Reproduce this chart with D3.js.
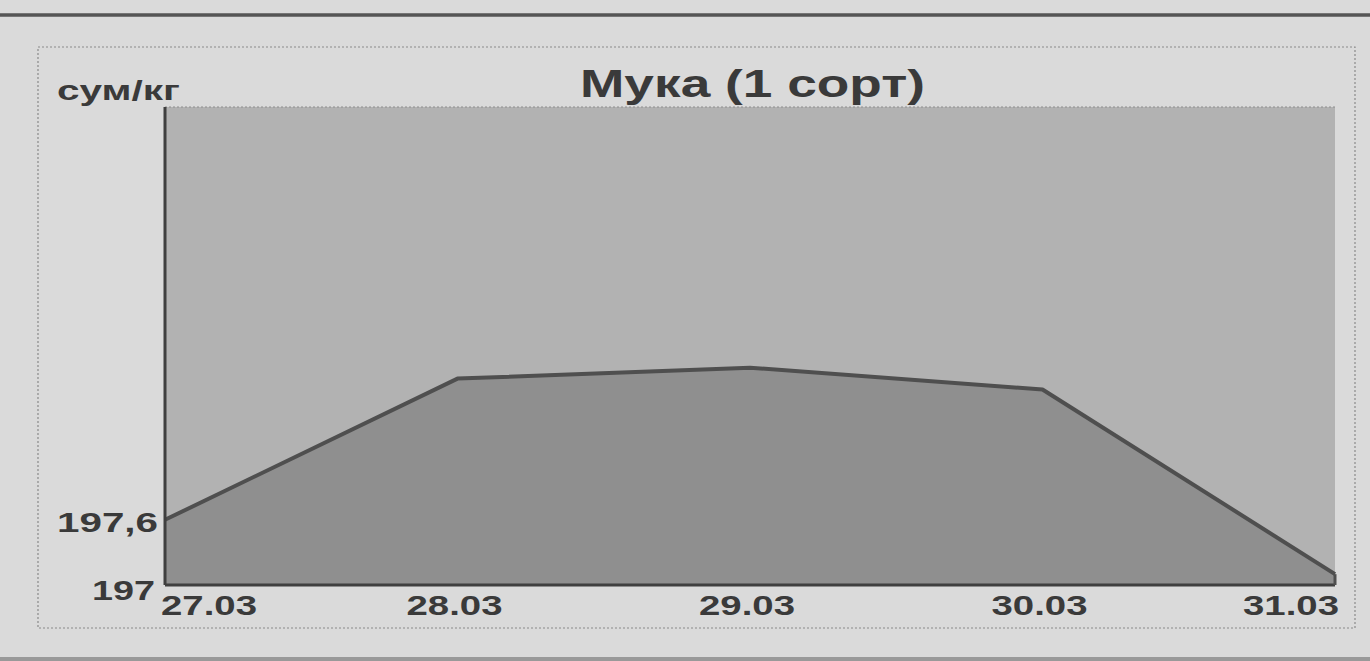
<!DOCTYPE html>
<html>
<head>
<meta charset="utf-8">
<script src="https://cdn.jsdelivr.net/npm/d3@7/dist/d3.min.js"></script>
<style>
  body { margin: 0; background: #dadada; }
  svg { display: block; }
  text { font-family: "Liberation Sans", Arial, sans-serif; font-weight: bold; fill: #3a3a3a; }
</style>
</head>
<body>
<svg width="1370" height="661"></svg>
<script>
// data
const dates = ["27.03", "28.03", "29.03", "30.03", "31.03"];
const prices = [197.6, 198.9, 199.0, 198.8, 197.1];
const yTicks = [197, 197.6];
const yTickLabels = ["197", "197,6"];

var svg = d3.select("svg"),
    width = +svg.attr("width"),
    height = +svg.attr("height");

var margin = {left: 165, right: 35, top: 107, bottom: 76};

var x = d3.scalePoint().domain(dates).range([margin.left, width - margin.right]);
var y = d3.scaleLinear().domain([197, 201.4]).range([height - margin.bottom, margin.top]);

// page rules
svg.append("line").attr("x1", 0).attr("x2", width).attr("y1", 15).attr("y2", 15)
    .attr("stroke", "#555").attr("stroke-width", 3.5);
svg.append("line").attr("x1", 0).attr("x2", width).attr("y1", 659).attr("y2", 659)
    .attr("stroke", "#999").attr("stroke-width", 4);

// dotted frame
svg.append("rect").attr("x", 38).attr("y", 47).attr("width", 1317).attr("height", 581)
    .attr("fill", "none").attr("stroke", "#8a8a8a").attr("stroke-width", 1.2)
    .attr("stroke-dasharray", "2,2");

// plot background
svg.append("rect")
    .attr("x", margin.left).attr("y", margin.top)
    .attr("width", width - margin.right - margin.left)
    .attr("height", height - margin.bottom - margin.top)
    .attr("fill", "#b2b2b2");
svg.append("line").attr("x1", margin.left).attr("x2", width - margin.right)
    .attr("y1", margin.top).attr("y2", margin.top)
    .attr("stroke", "#8e8e8e").attr("stroke-dasharray", "2,2");

var rows = dates.map((d, i) => ({date: d, value: prices[i]}));

var area = d3.area()
    .x(d => x(d.date))
    .y0(y(197))
    .y1(d => y(d.value));

svg.append("path").datum(rows)
    .attr("d", area)
    .attr("fill", "#8f8f8f");

var line = d3.line()
    .x(d => x(d.date))
    .y(d => y(d.value));

svg.append("path").datum(rows)
    .attr("d", line)
    .attr("fill", "none")
    .attr("stroke", "#4f4f4f")
    .attr("stroke-width", 4)
    .attr("stroke-linejoin", "round");

// axes lines
svg.append("line").attr("x1", margin.left).attr("x2", margin.left)
    .attr("y1", margin.top).attr("y2", y(197))
    .attr("stroke", "#3f3f3f").attr("stroke-width", 3);
svg.append("line").attr("x1", margin.left).attr("x2", width - margin.right)
    .attr("y1", y(197)).attr("y2", y(197))
    .attr("stroke", "#3f3f3f").attr("stroke-width", 3);
svg.append("line").attr("x1", width - margin.right).attr("x2", width - margin.right)
    .attr("y1", y(prices[4])).attr("y2", y(197))
    .attr("stroke", "#4f4f4f").attr("stroke-width", 3);

// the scanned type is wide, so stretch glyphs to the measured widths
function wide(sel, len) {
  sel.attr("textLength", len).attr("lengthAdjust", "spacingAndGlyphs");
}

// y tick labels
svg.append("g").selectAll("text")
    .data(yTicks)
    .enter().append("text")
    .attr("x", (d, i) => i == 0 ? 155 : 158)
    .attr("y", (d, i) => i == 0 ? y(d) + 15 : y(d) + 12)
    .attr("text-anchor", "end")
    .attr("font-size", 28)
    .text((d, i) => yTickLabels[i])
    .each(function(d, i) { wide(d3.select(this), i == 0 ? 63 : 101); });

// x tick labels
svg.append("g").selectAll("text")
    .data(dates)
    .enter().append("text")
    .attr("x", (d, i) => i == 0 ? x(d) - 4 : (i == dates.length - 1 ? x(d) + 4 : x(d) - 3))
    .attr("y", y(197) + 30)
    .attr("text-anchor", (d, i) => i == 0 ? "start" : (i == dates.length - 1 ? "end" : "middle"))
    .attr("font-size", 28)
    .attr("fill", "#484848")
    .text(d => d)
    .call(wide, 96);

// unit label and title
svg.append("text").attr("x", 57).attr("y", 100)
    .attr("font-size", 27).attr("fill", "#484848").text("сум/кг")
    .call(wide, 123);
svg.append("text").attr("x", 580).attr("y", 97)
    .attr("font-size", 39).text("Мука (1 сорт)")
    .call(wide, 345);
</script>
</body>
</html>
